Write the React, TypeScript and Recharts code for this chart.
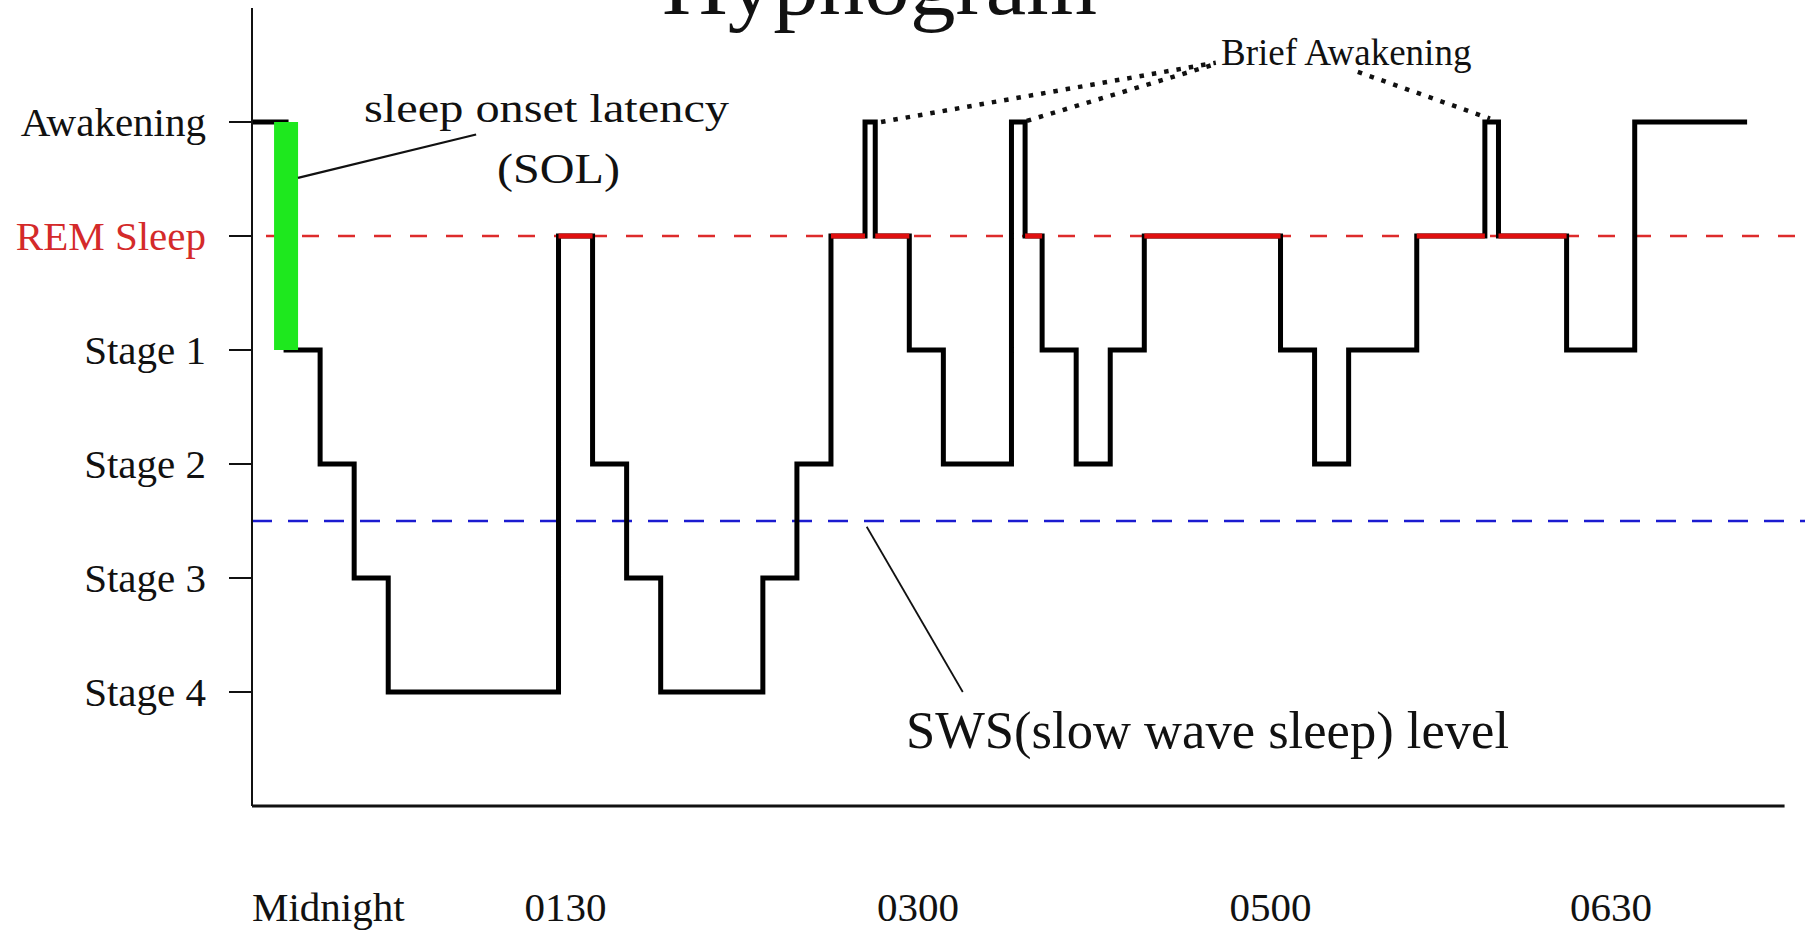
import React from 'react';
import { LineChart, Line, XAxis, YAxis, ReferenceLine } from 'recharts';

// stage codes: 0 = Stage 4 ... 4 = REM, 5 = Awakening
const STAGE_LABELS = ['Stage 4', 'Stage 3', 'Stage 2', 'Stage 1', 'REM Sleep', 'Awakening'];
const STAGE_VALUES = [0, 1, 2, 3, 4, 5];
const REM = 4;
const AWAKE = 5;
const SWS_LEVEL = 1.5;

// time axis in minutes after lights out (schematic, labels are not evenly spaced)
const TIME_TICKS = [0, 80, 183.5, 287, 387];
const TIME_LABELS = ['Midnight', '0130', '0300', '0500', '0630'];

// start minute of each bout and the stage it is in (last entry closes the night)
const BOUT_START = [0, 10, 20, 30, 40, 90, 100, 110, 120, 150, 160, 170, 180, 183, 193, 203, 223, 227, 232, 242, 252, 262, 302, 312, 322, 342, 362, 366, 386, 406, 439];
const BOUT_STAGE = [5, 3, 2, 1, 0, 4, 2, 1, 0, 1, 2, 4, 5, 4, 3, 2, 5, 4, 3, 2, 3, 4, 3, 2, 3, 4, 5, 4, 3, 5, 5];

const hypnoData = BOUT_START.map((t, i) => ({ t, stage: BOUT_STAGE[i] }));

// REM bouts drawn again in red, broken by nulls
const remData: { t: number; rem: number | null }[] = [];
BOUT_STAGE.forEach((s, i) => {
  if (s !== REM || i === BOUT_START.length - 1) return;
  remData.push({ t: BOUT_START[i], rem: REM });
  remData.push({ t: BOUT_START[i + 1], rem: REM });
  remData.push({ t: BOUT_START[i + 1], rem: null });
});

const W = 1805;
const H = 932;
const SERIF = '"Liberation Serif", "Times New Roman", serif';
const INK = '#111';
const RED = '#e01010';

function StageTick({ x, y, payload }: any) {
  const v = payload.value;
  return (
    <text x={x} y={y} dy={14} textAnchor="end" fontFamily={SERIF} fontSize={41}
      fill={v === REM ? '#d42a2a' : INK}>
      {STAGE_LABELS[v]}
    </text>
  );
}

function TimeTick({ x, y, payload }: any) {
  const i = TIME_TICKS.indexOf(payload.value);
  return (
    <text x={x} y={y + 115} textAnchor="start" fontFamily={SERIF} fontSize={41} fill={INK}>
      {TIME_LABELS[i]}
    </text>
  );
}

const dotted = { stroke: INK, strokeWidth: 4.5, strokeDasharray: '4.5 8' };

export default function App() {
  const solAt = BOUT_START[1];
  return (
    <div style={{ position: 'absolute', left: 0, top: 0, width: W, height: H, background: '#fff' }}>
      <LineChart width={W} height={H} data={hypnoData} margin={{ top: 8, right: 0, bottom: 0, left: 0 }}>
        <XAxis type="number" dataKey="t" domain={[0, 456]} ticks={TIME_TICKS} interval={0}
          axisLine={false} tickLine={false} tickSize={0} tickMargin={0} height={126} tick={TimeTick} />
        <YAxis type="number" domain={[-1, 6]} ticks={STAGE_VALUES} interval={0} width={252}
          tickSize={23} tickMargin={23}
          axisLine={{ stroke: INK, strokeWidth: 2 }} tickLine={{ stroke: INK, strokeWidth: 2 }}
          tick={StageTick} />

        <ReferenceLine y={REM} stroke="#dd2b2b" strokeWidth={2.5} strokeDasharray="17 19" strokeDashoffset={22} />
        <ReferenceLine y={SWS_LEVEL} stroke="#1b1bd0" strokeWidth={2.5} strokeDasharray="20 16" />
        <ReferenceLine segment={[{ x: 0, y: -1 }, { x: 450, y: -1 }]} stroke={INK} strokeWidth={3} />

        <Line dataKey="stage" type="stepAfter" stroke="#000" strokeWidth={5} dot={false}
          activeDot={false} isAnimationActive={false} />
        <Line data={remData} dataKey="rem" type="linear" stroke={RED} strokeWidth={5} dot={false}
          activeDot={false} connectNulls={false} isAnimationActive={false} />

        {/* sleep onset latency bar */}
        <ReferenceLine segment={[{ x: solAt, y: AWAKE }, { x: solAt, y: BOUT_STAGE[1] }]}
          stroke="#1ee81e" strokeWidth={24} />

        {/* pointers */}
        <ReferenceLine segment={[{ x: 13.5, y: 4.51 }, { x: 65.8, y: 4.89 }]} stroke={INK} strokeWidth={2.2} />
        <ReferenceLine segment={[{ x: 180.5, y: 1.45 }, { x: 208.7, y: 0 }]} stroke={INK} strokeWidth={1.8} />
        <ReferenceLine segment={[{ x: 184.7, y: 5.0 }, { x: 283, y: 5.52 }]} {...dotted} />
        <ReferenceLine segment={[{ x: 227.5, y: 5.01 }, { x: 282, y: 5.5 }]} {...dotted} />
        <ReferenceLine segment={[{ x: 324.7, y: 5.44 }, { x: 363.5, y: 5.03 }]} {...dotted} />
      </LineChart>

      <svg width={W} height={H} style={{ position: 'absolute', left: 0, top: 0, pointerEvents: 'none' }}>
        <g fontFamily={SERIF} fill={INK}>
          <text x={662} y={14} fontSize={86} textLength={435} lengthAdjust="spacingAndGlyphs">Hypnogram</text>
          <text x={364} y={122} fontSize={40} textLength={365} lengthAdjust="spacingAndGlyphs">sleep onset latency</text>
          <text x={497} y={183} fontSize={43} textLength={123} lengthAdjust="spacingAndGlyphs">(SOL)</text>
          <text x={1221} y={65} fontSize={37}>Brief Awakening</text>
          <text x={906} y={748} fontSize={52} textLength={603} lengthAdjust="spacingAndGlyphs">SWS(slow wave sleep) level</text>
        </g>
      </svg>
    </div>
  );
}
